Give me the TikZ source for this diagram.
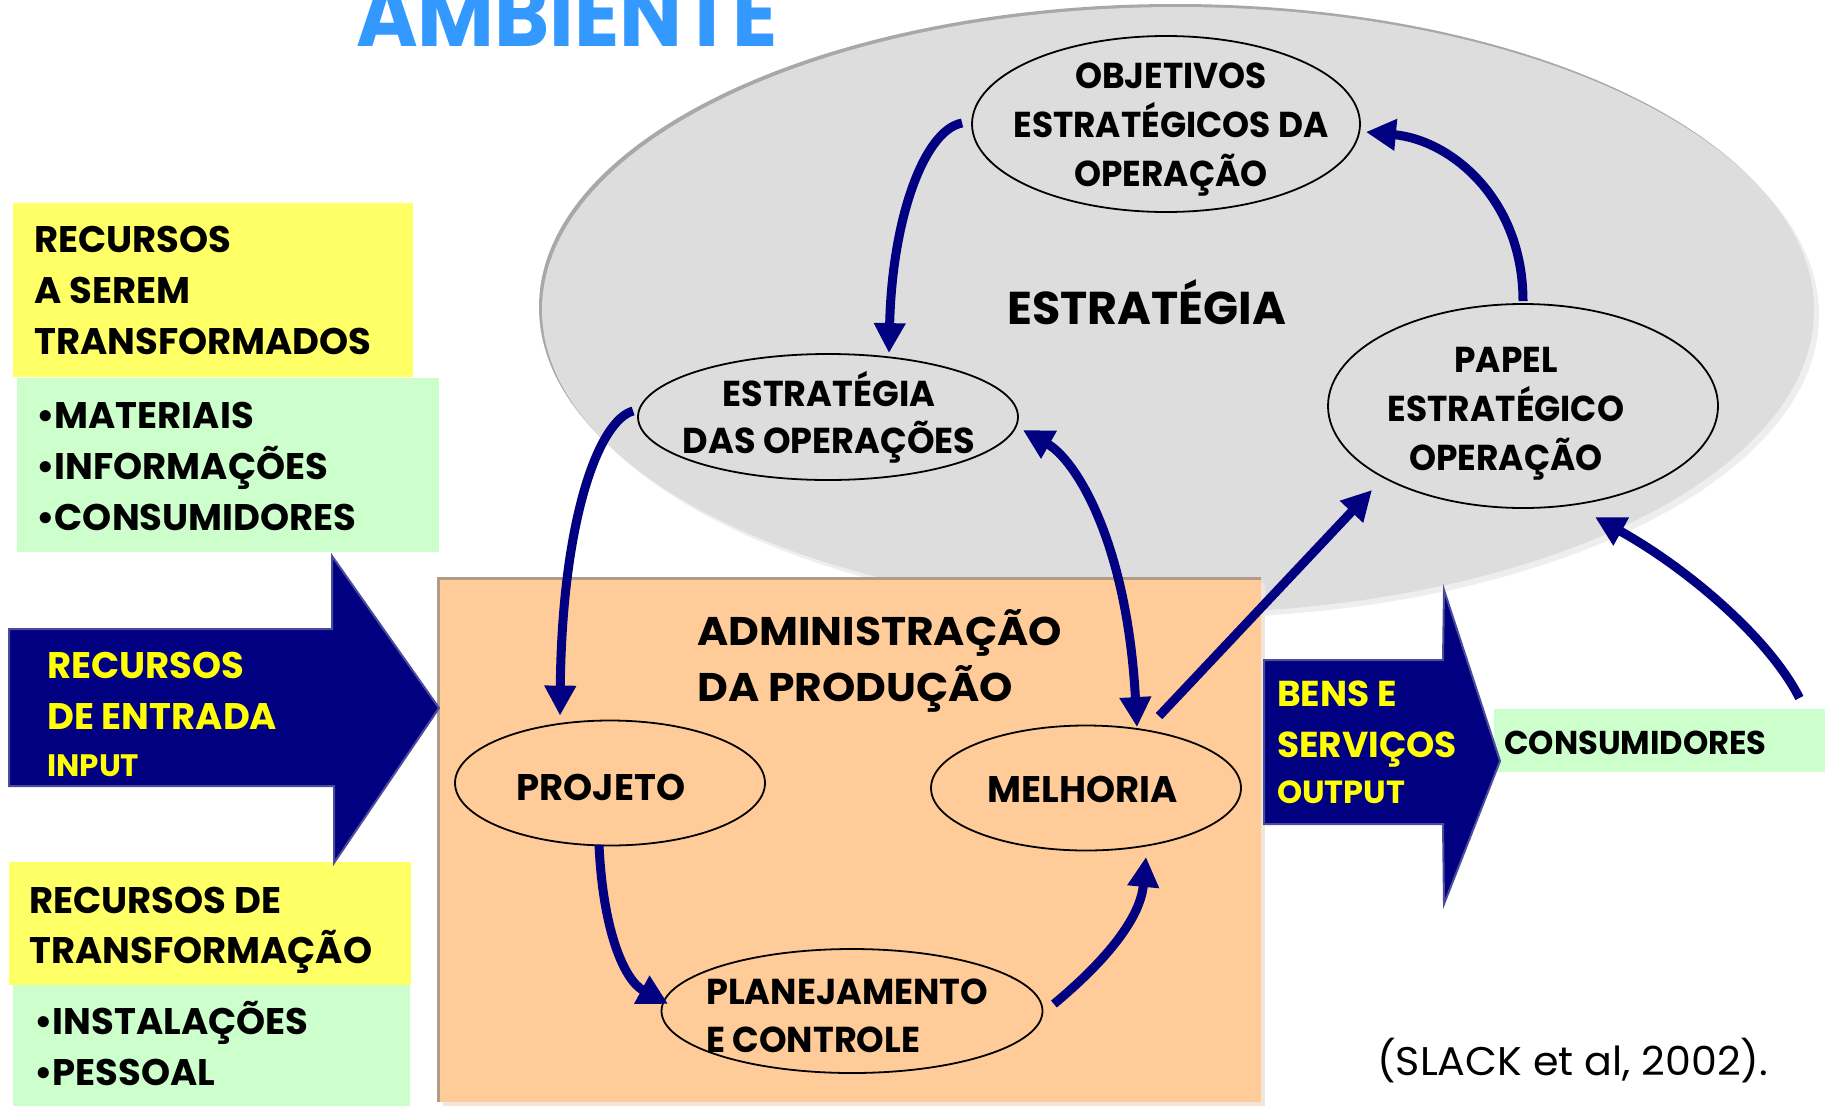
\documentclass[tikz,border=0pt]{standalone}
\usepackage{fontspec}
\setmainfont{Poppins}[FakeStretch=1.0]
\newfontfamily\fsa{Poppins}[FakeStretch=0.975]
\newfontfamily\fsb{Poppins}[FakeStretch=0.955]
\newfontfamily\fsc{Poppins}[FakeStretch=1.06]
\newfontfamily\fsd{Poppins}[FakeStretch=0.92]
\newfontfamily\fse{Poppins}[FakeStretch=1.03]
\usetikzlibrary{arrows.meta,shapes.geometric}
\definecolor{navyc}{HTML}{000080}
\definecolor{navyedge}{HTML}{4C4C9C}
\definecolor{yelbox}{HTML}{FFFF66}
\definecolor{grnbox}{HTML}{CCFFCC}
\definecolor{orgbox}{HTML}{FFCC99}
\definecolor{orgedge}{HTML}{B09A88}
\definecolor{orgshadow}{HTML}{F2E6DA}
\definecolor{grayfill}{HTML}{DDDDDD}
\definecolor{grayedge}{HTML}{A8A8A8}
\definecolor{grayshadow}{HTML}{EEEEEE}
\definecolor{ambblue}{HTML}{3399FF}
\definecolor{yeltxt}{HTML}{FFFF00}
\newcommand\stkl[1]{\begin{tabular}[t]{@{}l@{}}#1\end{tabular}}
\newcommand\stkc[1]{\begin{tabular}[t]{@{}c@{}}#1\end{tabular}}
\begin{document}
\begin{tikzpicture}[x=1pt,y=-1pt,
  ell/.style={ellipse, draw=black, line width=1.8pt, inner sep=0pt},
  txt/.style={inner sep=0pt, text=black},
  boxfill/.style={inner sep=0pt, draw=none},
  arr/.style={draw=navyc, line width=9pt, -{Triangle[width=30pt,length=30pt]}},
  darr/.style={draw=navyc, line width=9pt, {Triangle[width=30pt,length=30pt]}-{Triangle[width=30pt,length=30pt]}},
  lbfont/.style={font=\fontsize{37}{51}\selectfont\bfseries},
  elfont/.style={font=\fsb\fontsize{36}{48.5}\selectfont\bfseries}]
\useasboundingbox (0,0) rectangle (1825,1106);
\fill[white] (0,0) rectangle (1825,1106);

% environment ellipse
\fill[grayedge] (1175,307) ellipse [x radius=636, y radius=303];
\fill[grayshadow] (1183,315) ellipse [x radius=636, y radius=303];
\fill[grayfill] (1178,310) ellipse [x radius=636, y radius=303];

% title
\node[txt, anchor=base west, text=ambblue, font=\fsd\fontsize{91}{100}\selectfont\bfseries] (amb) at (356,46) {AMBIENTE};

% production box
\fill[orgshadow] (443,583) rectangle (1265,1106);
\fill[orgedge] (437,577) rectangle (1261,1102);
\fill[orgbox] (440,580) rectangle (1261,1102);

% left boxes
\fill[yelbox] (13,203) rectangle (413,377);
\fill[grnbox] (17,378) rectangle (439,552);
\fill[yelbox] (9,862) rectangle (411,985);
\fill[grnbox] (13,985) rectangle (410,1106);
\node[txt, lbfont, anchor=base west] (rst) at (34,252) {\stkl{RECURSOS\\A SEREM\\TRANSFORMADOS}};
\node[txt, lbfont, anchor=base west] (rstl) at (36,428) {\stkl{•MATERIAIS\\•INFORMAÇÕES\\•CONSUMIDORES}};
\node[txt, font=\fontsize{37}{50}\selectfont\bfseries, anchor=base west] (rtr) at (29,913) {\stkl{RECURSOS DE\\TRANSFORMAÇÃO}};
\node[txt, lbfont, anchor=base west] (rtrl) at (34,1034) {\stkl{•INSTALAÇÕES\\•PESSOAL}};

% input arrow
\filldraw[fill=navyc, draw=navyedge, line width=2pt, line join=miter]
  (9,629) -- (332,629) -- (332,556) -- (439,708) -- (334,863) -- (334,786) -- (9,786) -- cycle;
\node[txt, text=yeltxt, lbfont, anchor=base west] (inp) at (47,678) {\stkl{RECURSOS\\DE ENTRADA}};
\node[txt, text=yeltxt, font=\fontsize{31}{40}\selectfont\bfseries, anchor=base west] (inpt) at (47,776) {INPUT};

% consumers box
\node[boxfill, fill=grnbox, anchor=north west, minimum width=331pt, minimum height=63pt] (cons) at (1494,709) {};

% output arrow
\filldraw[fill=navyc, draw=navyedge, line width=2pt, line join=miter]
  (1264,660) -- (1443,660) -- (1444,590) -- (1500,761) -- (1444,904) -- (1443,824) -- (1264,824) -- cycle;
\node[txt, text=yeltxt, font=\fontsize{36}{51}\selectfont\bfseries, anchor=base west] (outt) at (1277,706) {\stkl{BENS E\\SERVIÇOS}};
\node[txt, text=yeltxt, font=\fontsize{32}{40}\selectfont\bfseries, anchor=base west] (outp) at (1277,803) {OUTPUT};
\node[txt, font=\fsa\fontsize{33}{40}\selectfont\bfseries, anchor=base west] (consT) at (1504,754) {CONSUMIDORES};

% ellipses
\node[ell, minimum width=388pt, minimum height=176pt] (obj) at (1166,124) {};
\node[ell, minimum width=390pt, minimum height=204pt] (papel) at (1523,406) {};
\node[ell, minimum width=380pt, minimum height=126pt] (eop) at (828,417) {};
\node[ell, minimum width=310pt, minimum height=125pt] (proj) at (610,783) {};
\node[ell, minimum width=310pt, minimum height=125pt] (mel) at (1086,788) {};
\node[ell, minimum width=381pt, minimum height=124pt] (plan) at (852,1011) {};

\node[txt, elfont, anchor=base] (objT) at (1171,88) {\stkc{OBJETIVOS\\ESTRATÉGICOS DA\\OPERAÇÃO}};
\node[txt, elfont, anchor=base] (papT) at (1506,372) {\stkc{PAPEL\\ESTRATÉGICO\\OPERAÇÃO}};
\node[txt, font=\fsa\fontsize{36}{47}\selectfont\bfseries, anchor=base] (eopT) at (829,406) {\stkc{ESTRATÉGIA\\DAS OPERAÇÕES}};
\node[txt, font=\fontsize{37}{40}\selectfont\bfseries, anchor=base] (projT) at (601,800) {PROJETO};
\node[txt, font=\fontsize{37}{40}\selectfont\bfseries, anchor=base] (melT) at (1083,802) {MELHORIA};
\node[txt, font=\fsa\fontsize{36}{48}\selectfont\bfseries, anchor=base west] (planT) at (706,1004) {\stkl{PLANEJAMENTO\\E CONTROLE}};

\node[txt, font=\fontsize{46}{50}\selectfont\bfseries, anchor=base west] (estr) at (1007,324) {ESTRATÉGIA};
\node[txt, font=\fsc\fontsize{40}{56}\selectfont\bfseries, anchor=base west] (adm) at (697,645) {\stkl{ADMINISTRAÇÃO\\DA PRODUÇÃO}};
\node[txt, font=\fse\fontsize{40}{48}\selectfont, anchor=base west] (ref) at (1377,1075) {(SLACK et al, 2002).};

% connectors
\draw[arr] ([shift={(-9,-1)}]obj.west) .. controls +(-38,7) and +(3,-134) .. ([shift={(61,0)}]eop.north);
\draw[arr] ([shift={(-4,-6)}]eop.west) .. controls +(-34,9) and +(2,-197) .. ([shift={(-50,-4)}]proj.north);
\draw[darr] ([shift={(4,13)}]eop.east) .. controls +(53,30) and +(-10,-185) .. ([shift={(51,2.5)}]mel.north);
\draw[arr] ([shift={(0,-2)}]papel.north) .. controls +(0,-102) and +(85,8) .. ([shift={(5,8)}]obj.east);
\draw[arr] ([shift={(73,-8.5)}]mel.north) -- ([shift={(-151,84)}]papel.center);
\draw[arr] ([shift={(-26,-11)}]cons.north east) .. controls +(-29,-58) and +(95,53) .. ([shift={(72,111)}]papel.center);
\draw[arr] ([shift={(-11,-1.5)}]proj.south) .. controls +(4,86) and +(-44,-24) .. ([shift={(7.5,-7)}]plan.west);
\draw[arr] ([shift={(10.5,-7)}]plan.east) .. controls +(47,-39) and +(-6,64) .. ([shift={(60,5.5)}]mel.south);
\end{tikzpicture}
\end{document}
